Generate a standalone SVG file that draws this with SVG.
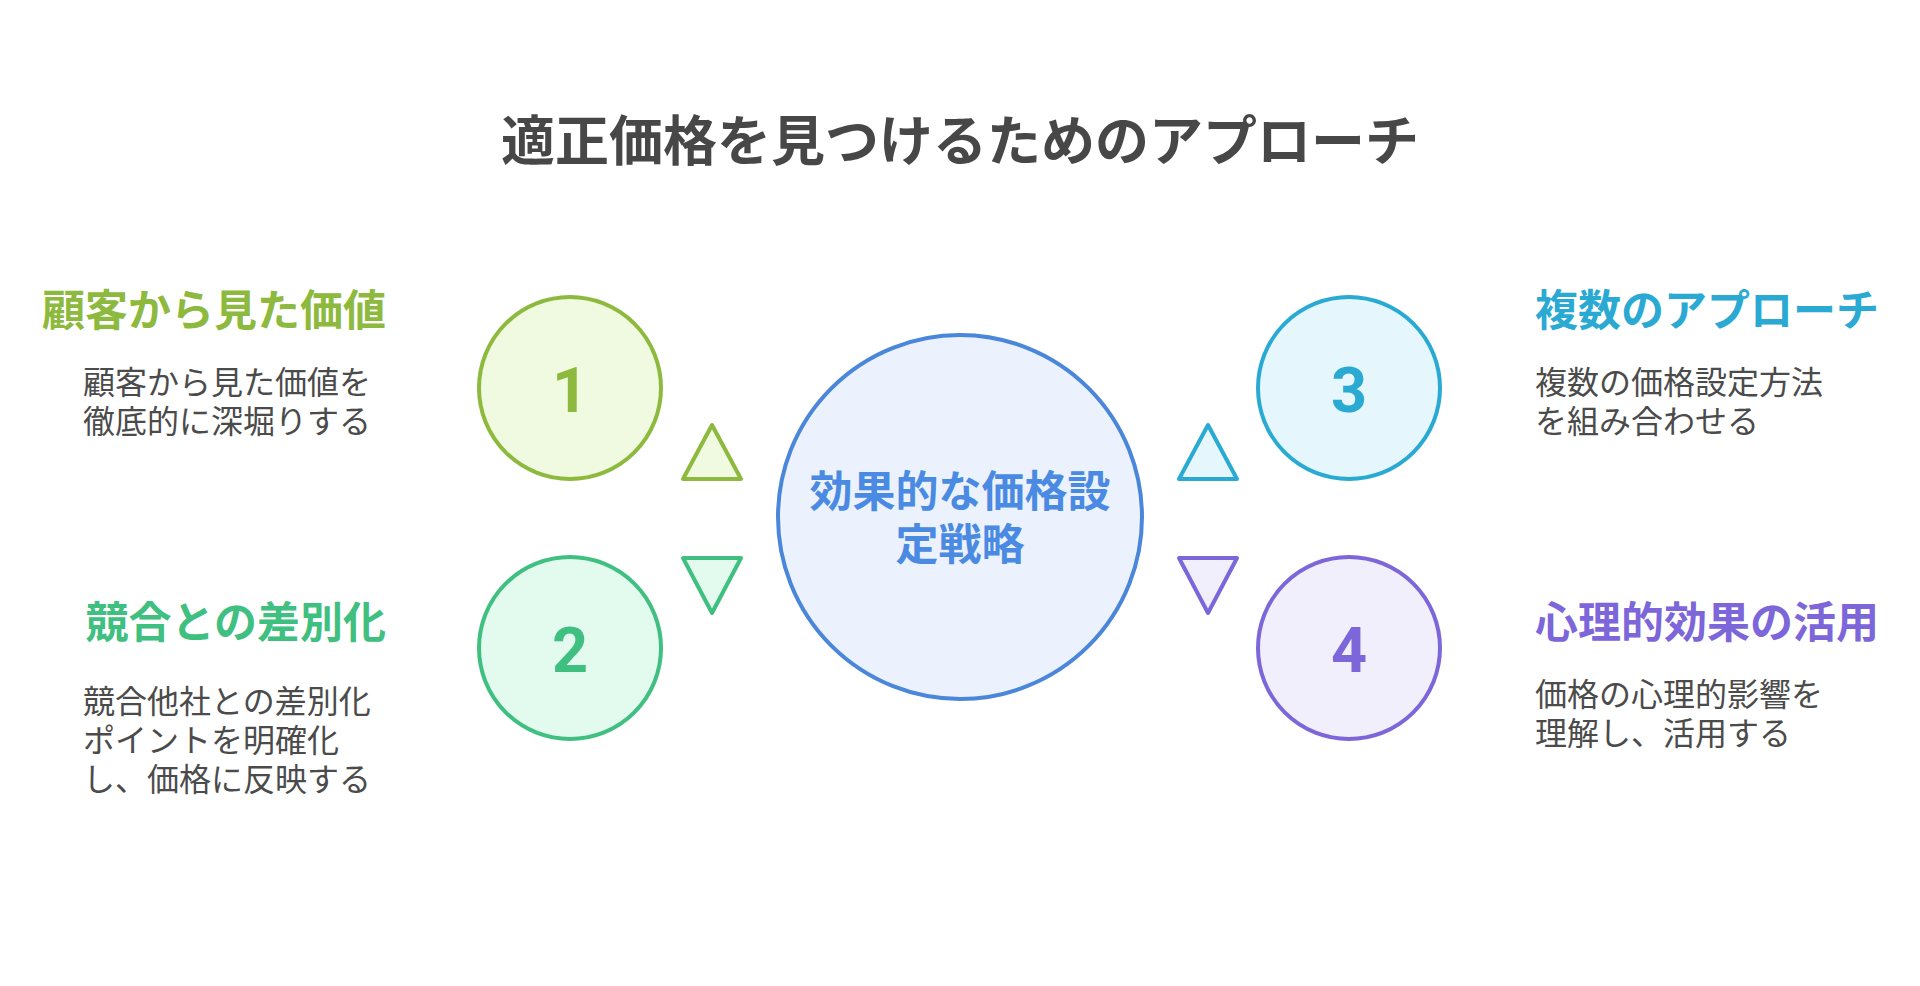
<svg xmlns="http://www.w3.org/2000/svg" width="1920" height="986" viewBox="0 0 1920 986">
<style>
.cjk{font-family:"Noto Sans CJK JP","Noto Sans CJK SC",sans-serif}
.title{font-size:54px;font-weight:700;fill:#474747}
.head{font-size:43px;font-weight:700}
.desc{font-size:32px;font-weight:400;fill:#4b4b4b}
.num{font-family:Roboto,"Liberation Sans",sans-serif;font-size:63px;font-weight:700;text-anchor:middle}
.ctr{font-size:43px;font-weight:700;fill:#4a8ae3;text-anchor:middle}
.tri{stroke-width:4;stroke-linejoin:round}
.c{stroke-width:4}
</style>
<rect width="1920" height="986" fill="#ffffff"/>
<text class="cjk title" x="960" y="161" text-anchor="middle">適正価格を見つけるためのアプローチ</text>
<g id="connectors">
<polygon class="tri" points="712,425 683,479 741,479" fill="#f0fae0" stroke="#8dba3e"/>
<polygon class="tri" points="683,558 741,558 712,613" fill="#e3faee" stroke="#3fbf80"/>
<polygon class="tri" points="1208,425 1179,479 1237,479" fill="#e5f7fd" stroke="#2aaad3"/>
<polygon class="tri" points="1179,558 1237,558 1208,613" fill="#f1effc" stroke="#7c66d9"/>
</g>
<g id="center">
<circle class="c" cx="960" cy="517" r="182" fill="#ebf2fd" stroke="#4a86da"/>
<text class="cjk ctr" x="960" y="507">効果的な価格設</text>
<text class="cjk ctr" x="960" y="560">定戦略</text>
</g>
<g id="node1">
<circle class="c" cx="570" cy="388" r="91" fill="#f0fae0" stroke="#8dba3e"/>
<text class="num" x="570" y="412" fill="#8dba3e">1</text>
<text class="cjk head" x="386" y="326" text-anchor="end" fill="#8dba3e">顧客から見た価値</text>
<text class="cjk desc" x="83" y="394">顧客から見た価値を</text>
<text class="cjk desc" x="83" y="433">徹底的に深堀りする</text>
</g>
<g id="node2">
<circle class="c" cx="570" cy="648" r="91" fill="#e3faee" stroke="#3fbf80"/>
<text class="num" x="570" y="672" fill="#3fbf80">2</text>
<text class="cjk head" x="386" y="638" text-anchor="end" fill="#3fbf80">競合との差別化</text>
<text class="cjk desc" x="83" y="713">競合他社との差別化</text>
<text class="cjk desc" x="83" y="752">ポイントを明確化</text>
<text class="cjk desc" x="83" y="791">し、価格に反映する</text>
</g>
<g id="node3">
<circle class="c" cx="1349" cy="388" r="91" fill="#e5f7fd" stroke="#2aaad3"/>
<text class="num" x="1349" y="412" fill="#2aaad3">3</text>
<text class="cjk head" x="1535" y="326" fill="#2aaad3">複数のアプローチ</text>
<text class="cjk desc" x="1535" y="394">複数の価格設定方法</text>
<text class="cjk desc" x="1535" y="433">を組み合わせる</text>
</g>
<g id="node4">
<circle class="c" cx="1349" cy="648" r="91" fill="#f1effc" stroke="#7c66d9"/>
<text class="num" x="1349" y="672" fill="#7c66d9">4</text>
<text class="cjk head" x="1535" y="638" fill="#7c66d9">心理的効果の活用</text>
<text class="cjk desc" x="1535" y="706">価格の心理的影響を</text>
<text class="cjk desc" x="1535" y="745">理解し、活用する</text>
</g>
</svg>
